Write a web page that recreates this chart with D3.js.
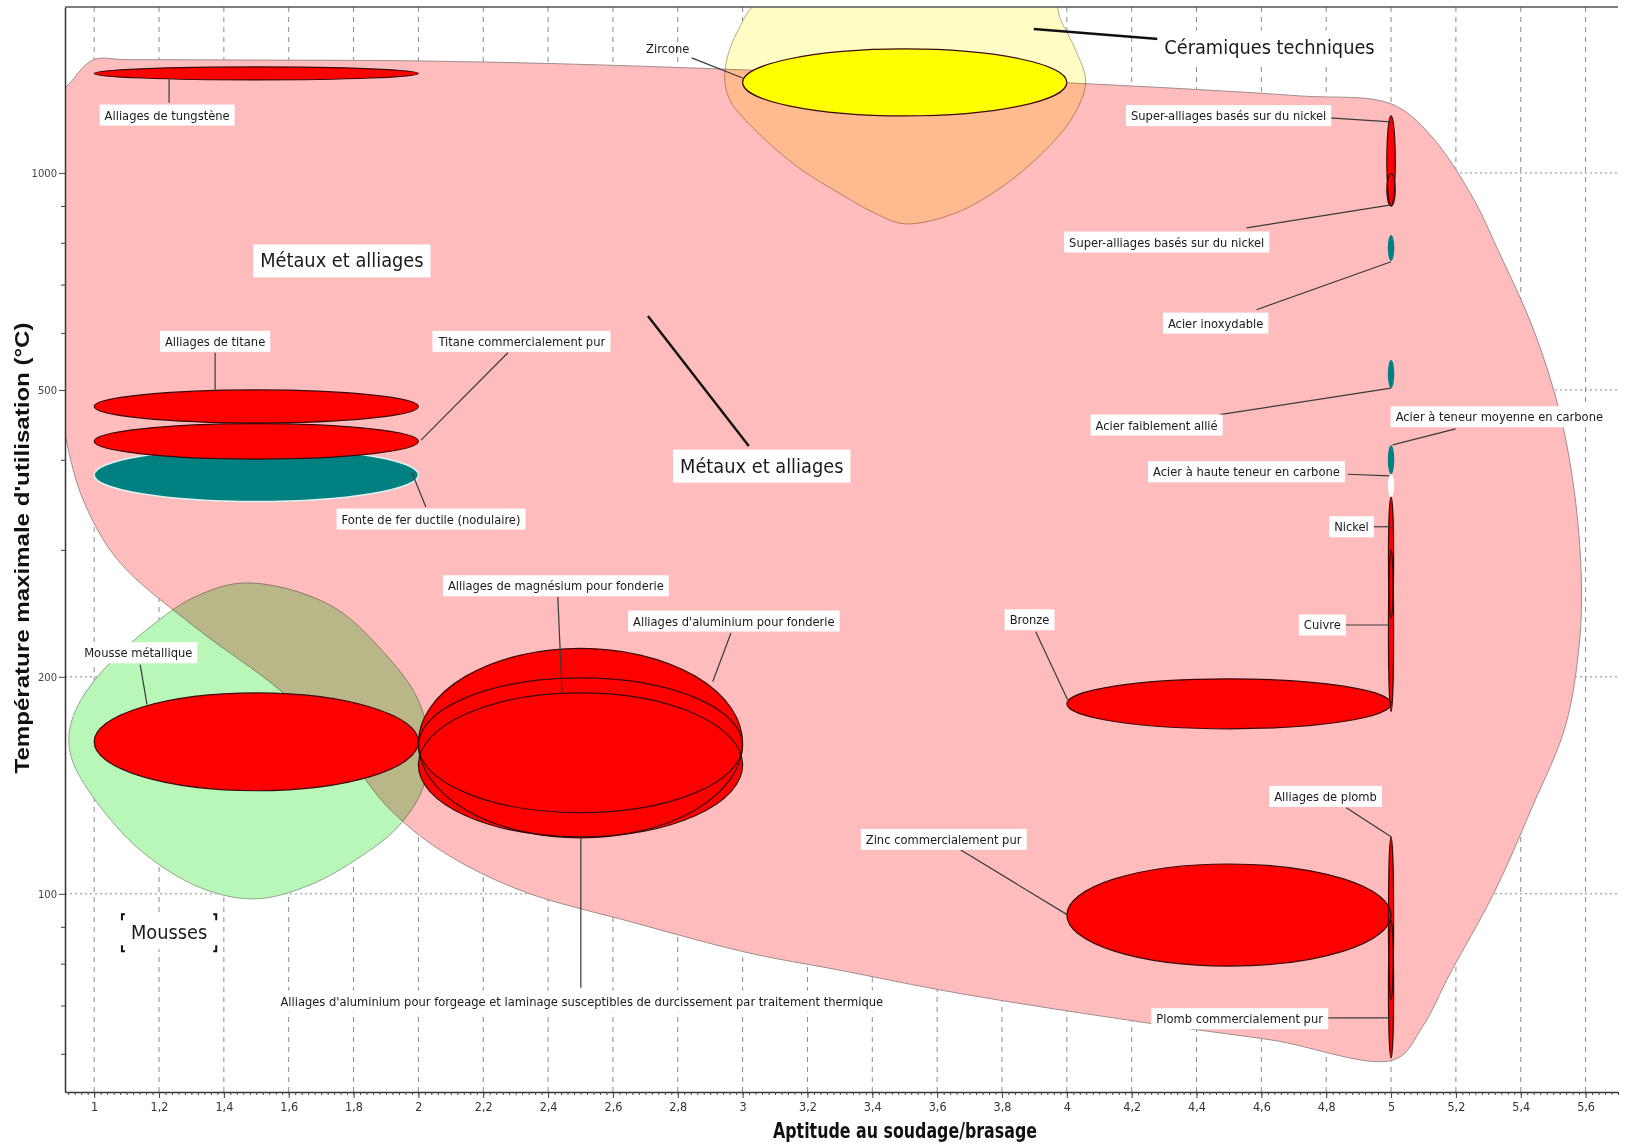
<!DOCTYPE html>
<html><head><meta charset="utf-8">
<script src="https://cdn.jsdelivr.net/npm/d3@7"></script>
<style>body{margin:0;background:#fff} svg{display:block}</style>
</head><body>
<svg id="chart" width="1626" height="1148"></svg>
<script>
// ---------- DATA ----------
const xDomain = [0.91, 5.7];
const yDomain = [53.1, 1699];
const xTicks = [1,1.2,1.4,1.6,1.8,2,2.2,2.4,2.6,2.8,3,3.2,3.4,3.6,3.8,4,4.2,4.4,4.6,4.8,5,5.2,5.4,5.6];
const yTicks = [100, 200, 500, 1000];
const yMinorTicks = [60, 70, 80, 90, 300, 400, 600, 700, 800, 900];
const xTitle = "Aptitude au soudage/brasage";
const yTitle = "Température maximale d'utilisation (°C)";

// envelopes (aptitude, temperature °C)
const metalEnvelope = [[0.895,1275],[0.93,1340],[0.997,1435],[1.1,1436],[1.5,1434],[2.005,1430],[2.56,1412],[3.485,1363],[4.129,1325],[4.718,1279],[5.0,1247],[5.121,1129],[5.251,926],[5.328,785],[5.442,602],[5.522,462],[5.568,354],[5.587,272],[5.581,223],[5.538,171],[5.433,131.2],[5.319,100.6],[5.18,77.2],[5.097,65.4],[5.011,58.9],[4.631,62.7],[4.249,66.2],[3.673,72.7],[3.29,78.5],[3.019,82.8],[2.665,91.2],[2.31,101.3],[2.067,115],[1.912,131],[1.789,153],[1.583,190],[1.308,235],[1.074,290],[0.966,352],[0.914,426],[0.895,484],[0.89,800]];
const ceramicEnvelope = [[3.078,1766],[2.982,1564],[2.945,1376],[2.961,1262],[3.047,1137],[3.17,1019],[3.297,938],[3.407,880],[3.5,850],[3.657,880],[3.799,956],[3.925,1066],[4.018,1196],[4.058,1337],[4.027,1481],[3.981,1630],[3.947,1766]];
const foamEnvelope = [[1.472,270],[1.727,251.6],[1.894,216],[1.999,185.8],[2.036,156.9],[2.005,137.2],[1.928,122.7],[1.82,112.5],[1.666,102.9],[1.496,98.4],[1.327,102],[1.142,115],[1.003,135],[0.932,153.4],[0.923,167.2],[0.951,182.9],[1.034,205.8],[1.173,234.6],[1.311,258.2]];

// materials: aptitude range, temperature range
const materials = [
  {name:"Alliages de tungstène", kind:"metal", x:[1,2], y:[1346,1403]},
  {name:"Zircone", kind:"ceramic", x:[3,4], y:[1200,1486]},
  {name:"Fonte de fer ductile (nodulaire)", kind:"ferrous", x:[1,2], y:[350,415]},
  {name:"Alliages de titane", kind:"metal", x:[1,2], y:[450,500]},
  {name:"Titane commercialement pur", kind:"metal", x:[1,2], y:[401,449]},
  {name:"Mousse métallique", kind:"metal", x:[1,2], y:[139,190]},
  {name:"Alliages d'aluminium pour forgeage", kind:"metal", x:[2,3], y:[119.6,219]},
  {name:"Alliages d'aluminium pour fonderie", kind:"metal", x:[2,3], y:[129.6,199.3]},
  {name:"Alliages de magnésium pour fonderie", kind:"metal", x:[2,3], y:[120,190]},
  {name:"Super-alliages basés sur du nickel A", kind:"metal", x:[4.987,5.013], y:[900,1200]},
  {name:"Super-alliages basés sur du nickel B", kind:"metal", x:[4.987,5.013], y:[900,997]},
  {name:"Acier inoxydable", kind:"ferrous", x:[4.99,5.01], y:[755,820]},
  {name:"Acier faiblement allié", kind:"ferrous", x:[4.99,5.01], y:[503,550]},
  {name:"Acier à teneur moyenne en carbone", kind:"ferrous", x:[4.99,5.01], y:[382,419]},
  {name:"Acier à haute teneur en carbone", kind:"blank", x:[4.99,5.01], y:[355,382]},
  {name:"Nickel", kind:"metal", x:[4.992,5.008], y:[241,355]},
  {name:"Cuivre", kind:"metal", x:[4.992,5.008], y:[179,300]},
  {name:"Bronze", kind:"metal", x:[4,5], y:[169.4,198.7]},
  {name:"Zinc commercialement pur", kind:"metal", x:[4,5], y:[79.4,110]},
  {name:"Alliages de plomb", kind:"metal", x:[4.992,5.008], y:[71.3,120]},
  {name:"Plomb commercialement pur", kind:"metal", x:[4.992,5.008], y:[59.2,92]}
];

// annotations: text, anchor (data), leader (data)
const labels = [
  {t:"Alliages de tungstène", at:[1.225,1203], lead:[1.231,1251,1.231,1350]},
  {t:"Métaux et alliages", at:[1.764,755], big:true},
  {t:"Métaux et alliages", at:[3.059,392], big:true, lead:[2.708,633,3.019,418], thick:true},
  {t:"Céramiques techniques", at:[4.625,1495], big:true, lead:[3.898,1584,4.283,1534], thick:true},
  {t:"Zircone", at:[2.769,1486], lead:[2.843,1444,3.0,1354], nobox:true},
  {t:"Super-alliages basés sur du nickel", at:[4.499,1201], lead:[4.81,1192,5.0,1177]},
  {t:"Super-alliages basés sur du nickel", at:[4.308,802], lead:[4.554,839,5.0,903]},
  {t:"Acier inoxydable", at:[4.459,619], lead:[4.585,646,5.0,753]},
  {t:"Acier faiblement allié", at:[4.277,447], lead:[4.471,462,5.0,503]},
  {t:"Acier à teneur moyenne en carbone", at:[5.334,459], lead:[5.199,441.5,5.005,419.5]},
  {t:"Acier à haute teneur en carbone", at:[4.554,385], lead:[4.866,382,4.995,380]},
  {t:"Nickel", at:[4.878,323], lead:[4.94,323,5.0,323]},
  {t:"Cuivre", at:[4.788,236], lead:[4.853,236,5.0,236]},
  {t:"Bronze", at:[3.885,240], lead:[3.904,231,4.002,186]},
  {t:"Zinc commercialement pur", at:[3.62,119], lead:[3.673,115,4.002,93.5]},
  {t:"Alliages de plomb", at:[4.798,136.5], lead:[4.862,131.6,5.0,120]},
  {t:"Plomb commercialement pur", at:[4.533,67.1], lead:[4.804,67.3,5.0,67.3]},
  {t:"Alliages d'aluminium pour forgeage et laminage susceptibles de durcissement par traitement thermique", at:[2.504,71.0], lead:[2.501,74.1,2.501,119.6]},
  {t:"Mousses", at:[1.231,88.3], big:true, frame:true},
  {t:"Mousse métallique", at:[1.136,216], lead:[1.142,208,1.163,183]},
  {t:"Alliages de magnésium pour fonderie", at:[2.424,267.5], lead:[2.43,258,2.443,190]},
  {t:"Alliages d'aluminium pour fonderie", at:[2.973,239], lead:[2.964,230,2.908,197]},
  {t:"Alliages de titane", at:[1.373,584], lead:[1.373,563,1.373,498]},
  {t:"Titane commercialement pur", at:[2.319,584], lead:[2.276,563,2.008,426]},
  {t:"Fonte de fer ductile (nodulaire)", at:[2.039,331], lead:[2.023,344,1.98,384]}
];

// ---------- DRAW ----------
const NARROW = '"Liberation Sans Narrow","DejaVu Sans Condensed","Arial Narrow",sans-serif';
const plot = {left:65, right:1618, top:7, bottom:1092};
const svg = d3.select('#chart');
const x = d3.scaleLinear().domain(xDomain).range([plot.left, plot.right]);
const y = d3.scaleLog().domain(yDomain).range([plot.bottom, plot.top]);

svg.append('defs').append('clipPath').attr('id','clip').append('rect')
  .attr('x',plot.left).attr('y',plot.top).attr('width',plot.right-plot.left).attr('height',plot.bottom-plot.top);

// grid
const grid = svg.append('g');
grid.selectAll('line.v').data(xTicks).join('line')
  .attr('x1',d=>x(d)).attr('x2',d=>x(d)).attr('y1',plot.top).attr('y2',plot.bottom)
  .attr('stroke','#8a8a8a').attr('stroke-width',1).attr('stroke-dasharray','5,5');
grid.selectAll('line.h').data(yTicks).join('line')
  .attr('x1',plot.left).attr('x2',plot.right).attr('y1',d=>y(d)).attr('y2',d=>y(d))
  .attr('stroke','#8a8a8a').attr('stroke-width',1).attr('stroke-dasharray','2,3');

// envelopes
const env = svg.append('g').attr('clip-path','url(#clip)');
const envLine = d3.line().x(d=>x(d[0])).y(d=>y(d[1])).curve(d3.curveCatmullRomClosed.alpha(0.5));
[[metalEnvelope,'#ffbcbc','#a08c8c'],[foamEnvelope,'#b9f7b9','#8aa88a'],[ceramicEnvelope,'#fffcc4','#b8aa80']].forEach(([pts,fill,stroke])=>{
  env.append('path').attr('d',envLine(pts)).attr('fill',fill).attr('stroke',stroke).attr('stroke-width',1)
    .style('mix-blend-mode','multiply');
});

// ellipses
const fillOf = {metal:'#ff0000', ceramic:'#ffff00', ferrous:'#008080', blank:'#ffffff'};
const ell = svg.append('g').attr('clip-path','url(#clip)');
function geom(m){
  const x0=x(m.x[0]), x1=x(m.x[1]), y0=y(m.y[0]), y1=y(m.y[1]);
  return {cx:(x0+x1)/2, cy:(y0+y1)/2, rx:Math.abs(x1-x0)/2, ry:Math.abs(y1-y0)/2};
}
ell.selectAll('ellipse.f').data(materials).join('ellipse')
  .each(function(m){const g=geom(m); d3.select(this).attr('cx',g.cx).attr('cy',g.cy).attr('rx',g.rx).attr('ry',g.ry);})
  .attr('fill',m=>fillOf[m.kind])
  .attr('stroke',m=>m.kind==='ferrous' && m.x[1]-m.x[0]>0.5 ? '#dff0f0' : 'none')
  .attr('stroke-width',1.5);
ell.selectAll('ellipse.s').data(materials.filter(m=>m.kind==='metal'||m.kind==='ceramic')).join('ellipse')
  .each(function(m){const g=geom(m); d3.select(this).attr('cx',g.cx).attr('cy',g.cy).attr('rx',g.rx).attr('ry',g.ry);})
  .attr('fill','none').attr('stroke','#3a0a0a').attr('stroke-width',1.2);

// leaders
const ann = svg.append('g');
ann.selectAll('line').data(labels.filter(l=>l.lead)).join('line')
  .attr('x1',l=>x(l.lead[0])).attr('y1',l=>y(l.lead[1])).attr('x2',l=>x(l.lead[2])).attr('y2',l=>y(l.lead[3]))
  .attr('stroke',l=>l.thick?'#111':'#3a3a3a').attr('stroke-width',l=>l.thick?2.4:1.2);

// label boxes
labels.forEach(l=>{
  const g = ann.append('g');
  const fs = l.big?19.8:12.8;
  const t = g.append('text').attr('x',x(l.at[0])).attr('y',y(l.at[1]))
    .attr('text-anchor','middle').attr('dominant-baseline','central')
    .style('font-family',NARROW).style('font-size',fs+'px').attr('fill','#1a1a1a').text(l.t);
  const bb = t.node().getBBox();
  const px = l.big?7:5, py = l.big?5:3;
  if(!l.nobox){
    g.insert('rect','text').attr('x',bb.x-px).attr('y',bb.y-py).attr('width',bb.width+2*px).attr('height',bb.height+2*py)
      .attr('fill','#fff');
  }
  if(l.frame){
    const x0=bb.x-px-2, x1=bb.x+bb.width+px+2, y0=bb.y-py-2, y1=bb.y+bb.height+py+2;
    const c = [[x0,y0,1,1],[x1,y0,-1,1],[x0,y1,1,-1],[x1,y1,-1,-1]];
    c.forEach(([cx,cy,sx,sy])=>{
      g.append('path').attr('d',`M${cx+sx*3},${cy}L${cx},${cy}L${cx},${cy+sy*6}`)
        .attr('fill','none').attr('stroke','#111').attr('stroke-width',2);
    });
  }
});

// axes
const fmt = d => String(d).replace('.',',');
const xAxis = svg.append('g').attr('transform',`translate(0,${plot.bottom})`)
  .call(d3.axisBottom(x).tickValues(xTicks).tickSize(6).tickSizeOuter(0).tickPadding(4).tickFormat(fmt));
svg.append('g').attr('transform',`translate(0,${plot.bottom})`)
  .call(d3.axisBottom(x).tickValues(d3.range(0,240).map(i=>0.92+i*0.02)).tickSize(3).tickSizeOuter(0).tickFormat(''))
  .call(g=>g.select('.domain').remove());
xAxis.selectAll('text').style('font-family',NARROW).style('font-size','12.5px').attr('fill','#333');
const yAxis = svg.append('g').attr('transform',`translate(${plot.left},0)`)
  .call(d3.axisLeft(y).tickValues(yTicks).tickSize(6).tickSizeOuter(0).tickPadding(2).tickFormat(d3.format('d')));
svg.append('g').attr('transform',`translate(${plot.left},0)`)
  .call(d3.axisLeft(y).tickValues(yMinorTicks).tickSize(4).tickSizeOuter(0).tickFormat(''))
  .call(g=>g.select('.domain').remove());
yAxis.selectAll('text').style('font-family','"DejaVu Sans",sans-serif').style('font-size','10px').attr('fill','#444');
svg.selectAll('.domain').attr('stroke','#333').attr('stroke-width',1.5);
svg.selectAll('.tick line').attr('stroke','#444');

// top border
svg.append('line').attr('x1',plot.left).attr('x2',plot.right).attr('y1',plot.top).attr('y2',plot.top)
  .attr('stroke','#555').attr('stroke-width',1.5);

// titles
svg.append('text').attr('x',905).attr('y',1138).attr('text-anchor','middle')
  .attr('textLength',264).attr('lengthAdjust','spacingAndGlyphs')
  .style('font-family',NARROW).style('font-size','21px').style('font-weight','bold').attr('fill','#111').text(xTitle);
svg.append('text').attr('transform','translate(29,548) rotate(-90)').attr('text-anchor','middle')
  .attr('textLength',451).attr('lengthAdjust','spacingAndGlyphs')
  .style('font-family','"Liberation Sans",sans-serif').style('font-size','20px').style('font-weight','bold').attr('fill','#111').text(yTitle);
</script></body></html>
